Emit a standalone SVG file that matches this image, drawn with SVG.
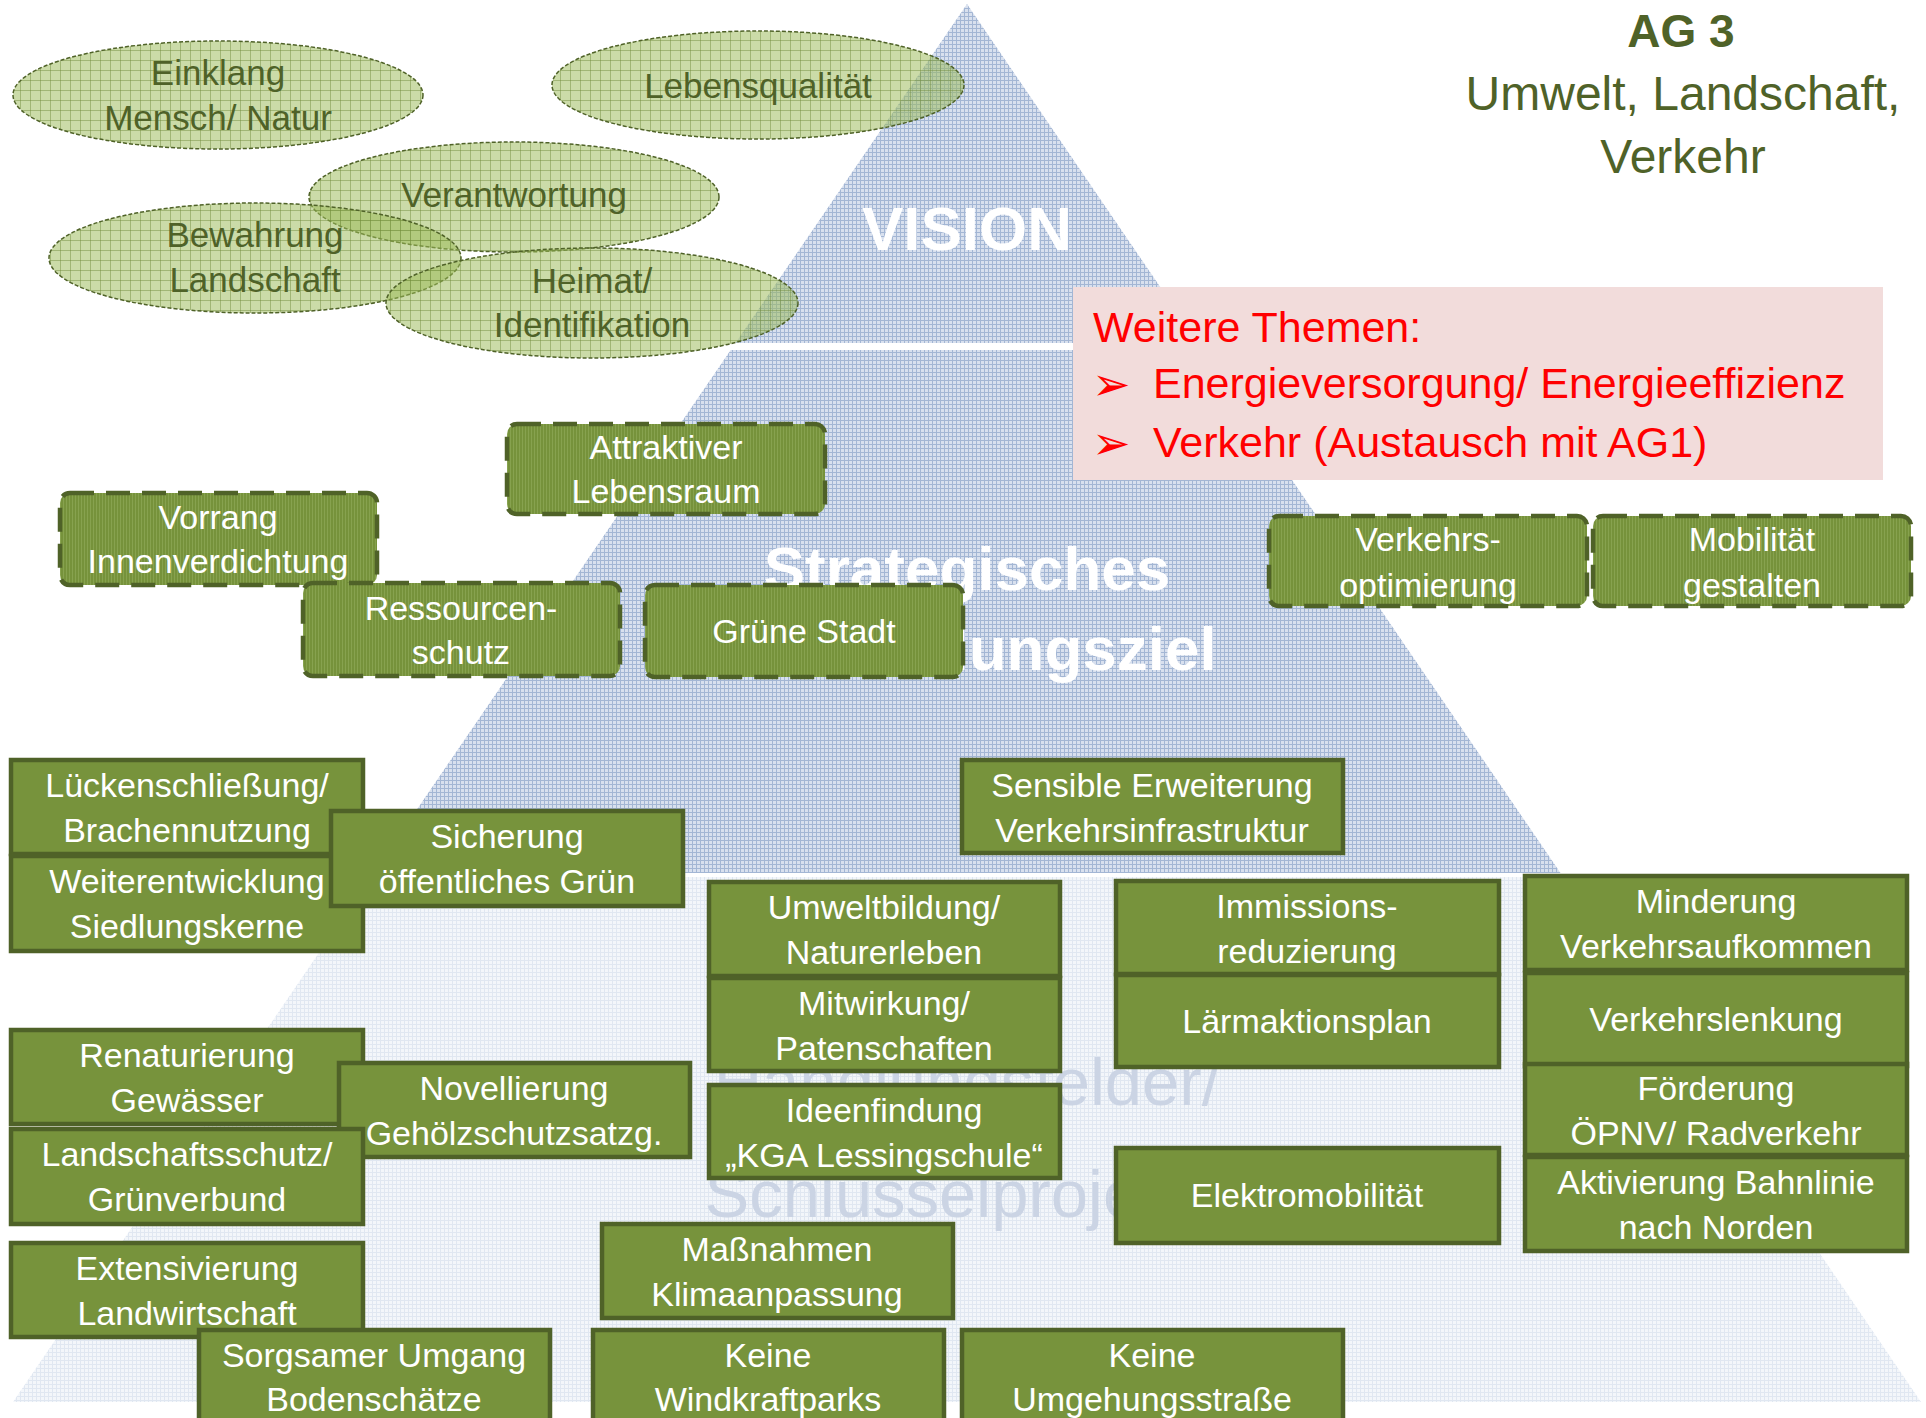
<svg xmlns="http://www.w3.org/2000/svg" width="1926" height="1418" viewBox="0 0 1926 1418">
<defs>
<pattern id="pyr" width="4" height="4" patternUnits="userSpaceOnUse"><rect width="4" height="4" fill="#d8e0ee"/><path d="M0 0.5H4M0.5 0V4" stroke="#a3b6d4" stroke-width="1"/></pattern>
<pattern id="pale" width="4" height="4" patternUnits="userSpaceOnUse"><rect width="4" height="4" fill="#f3f6fa"/><path d="M0 0.5H4M0.5 0V4" stroke="#e0e7f1" stroke-width="1"/></pattern>
<pattern id="ell" width="10" height="10" patternUnits="userSpaceOnUse"><rect width="10" height="10" fill="#9bbb59" fill-opacity="0.52"/><path d="M0 0.5H10M0.5 0V10" stroke="#6f8a3a" stroke-opacity="0.45" stroke-width="1"/></pattern>
<pattern id="dbx" width="3" height="3" patternUnits="userSpaceOnUse"><rect width="3" height="3" fill="#76923b"/><path d="M0.5 0V3" stroke="#87a24f" stroke-width="1"/></pattern>
<style>
.ell{fill:url(#ell);stroke:#4f6228;stroke-width:1.5;stroke-dasharray:4 2}
.et{font-family:"Liberation Sans",Arial,sans-serif;font-size:35px;fill:#4f6228;text-anchor:middle}
.db{fill:url(#dbx);stroke:#4f6228;stroke-width:4.5;stroke-dasharray:24 12}
.sb{fill:#77933c;stroke:#4f6228;stroke-width:4.5}
.bt{font-family:"Liberation Sans",Arial,sans-serif;font-size:34px;fill:#ffffff;text-anchor:middle}
.pl{font-family:"Liberation Sans",Arial,sans-serif;font-weight:bold;font-size:62px;fill:#ffffff;text-anchor:middle}
.hl{font-family:"Liberation Sans",Arial,sans-serif;font-size:67px;fill:#cbd4e4;text-anchor:middle}
.tt{font-family:"Liberation Sans",Arial,sans-serif;fill:#4f6228;text-anchor:middle}
.rt{font-family:"Liberation Sans",Arial,sans-serif;font-size:43px;fill:#ff0000}
.bul{font-family:"DejaVu Sans",sans-serif;font-size:46px;fill:#ff0000}
</style>
</defs>
<rect width="1926" height="1418" fill="#ffffff"/>
<g id="pyramid">
<polygon points="967,4 1198.5,343 735.5,343" fill="url(#pyr)"/>
<polygon points="730.7,350 1203.3,350 1560.5,873 373.5,873" fill="url(#pyr)"/>
<polygon points="370.5,877 1563.5,877 1921,1402 13,1402" fill="url(#pale)"/>
<text class="pl" x="967" y="250">VISION</text>
<text class="pl" x="967" y="590">Strategisches</text>
<text class="pl" x="967" y="670">Entwicklungsziel</text>
<text class="hl" x="967" y="1105">Handlungsfelder/</text>
<text class="hl" x="967" y="1217">Schlüsselprojekte</text>
</g>
<g id="title">
<text class="tt" x="1681" y="47" font-size="46" font-weight="bold">AG 3</text>
<text class="tt" x="1683" y="110" font-size="48">Umwelt, Landschaft,</text>
<text class="tt" x="1683" y="173" font-size="48">Verkehr</text>
</g>
<g id="ellipses">
<g id="e-einklang"><ellipse class="ell" cx="218" cy="95" rx="205" ry="54"/><text class="et" x="218" y="85">Einklang</text><text class="et" x="218" y="130">Mensch/ Natur</text></g>
<g id="e-lebensqualitaet"><ellipse class="ell" cx="758" cy="85" rx="206" ry="54"/><text class="et" x="758" y="98">Lebensqualität</text></g>
<g id="e-verantwortung"><ellipse class="ell" cx="514" cy="197" rx="205" ry="55"/><text class="et" x="514" y="207">Verantwortung</text></g>
<g id="e-bewahrung"><ellipse class="ell" cx="255" cy="258" rx="206" ry="55"/><text class="et" x="255" y="247">Bewahrung</text><text class="et" x="255" y="292">Landschaft</text></g>
<g id="e-heimat"><ellipse class="ell" cx="592" cy="303" rx="206" ry="55"/><text class="et" x="592" y="293">Heimat/</text><text class="et" x="592" y="337">Identifikation</text></g>
</g>
<g id="weitere-themen">
<rect x="1073" y="287" width="810" height="193" fill="#f2dcdb"/>
<text class="rt" x="1093" y="342">Weitere Themen:</text>
<text class="bul" x="1092" y="400">➢</text>
<text class="rt" x="1153" y="398">Energieversorgung/ Energieeffizienz</text>
<text class="bul" x="1092" y="459">➢</text>
<text class="rt" x="1153" y="457">Verkehr (Austausch mit AG1)</text>
</g>
<g id="ziele">
<g id="z-attraktiv"><rect class="db" x="507" y="424" width="318" height="90" rx="10"/><text class="bt" x="666" y="459">Attraktiver</text><text class="bt" x="666" y="503">Lebensraum</text></g>
<g id="z-vorrang"><rect class="db" x="60" y="493" width="317" height="92" rx="10"/><text class="bt" x="218" y="529">Vorrang</text><text class="bt" x="218" y="573">Innenverdichtung</text></g>
<g id="z-ressourcen"><rect class="db" x="303" y="583" width="317" height="93" rx="10"/><text class="bt" x="461" y="620">Ressourcen-</text><text class="bt" x="461" y="664">schutz</text></g>
<g id="z-gruene-stadt"><rect class="db" x="645" y="585" width="318" height="92" rx="10"/><text class="bt" x="804" y="643">Grüne Stadt</text></g>
<g id="z-verkehrsopt"><rect class="db" x="1269" y="516" width="318" height="90" rx="10"/><text class="bt" x="1428" y="551">Verkehrs-</text><text class="bt" x="1428" y="597">optimierung</text></g>
<g id="z-mobilitaet"><rect class="db" x="1593" y="516" width="318" height="90" rx="10"/><text class="bt" x="1752" y="551">Mobilität</text><text class="bt" x="1752" y="597">gestalten</text></g>
</g>
<g id="projekte">
<g id="p-lueckenschliessung"><rect class="sb" x="11" y="760" width="352" height="94"/><text class="bt" x="187" y="797">Lückenschließung/</text><text class="bt" x="187" y="842">Brachennutzung</text></g>
<g id="p-weiterentwicklung"><rect class="sb" x="11" y="856" width="352" height="95"/><text class="bt" x="187" y="893">Weiterentwicklung</text><text class="bt" x="187" y="938">Siedlungskerne</text></g>
<g id="p-sicherung"><rect class="sb" x="331" y="811" width="352" height="95"/><text class="bt" x="507" y="848">Sicherung</text><text class="bt" x="507" y="893">öffentliches Grün</text></g>
<g id="p-renaturierung"><rect class="sb" x="11" y="1030" width="352" height="94"/><text class="bt" x="187" y="1067">Renaturierung</text><text class="bt" x="187" y="1112">Gewässer</text></g>
<g id="p-novellierung"><rect class="sb" x="339" y="1063" width="351" height="94"/><text class="bt" x="514" y="1100">Novellierung</text><text class="bt" x="514" y="1145">Gehölzschutzsatzg.</text></g>
<g id="p-landschaftsschutz"><rect class="sb" x="11" y="1129" width="352" height="95"/><text class="bt" x="187" y="1166">Landschaftsschutz/</text><text class="bt" x="187" y="1211">Grünverbund</text></g>
<g id="p-extensivierung"><rect class="sb" x="11" y="1243" width="352" height="94"/><text class="bt" x="187" y="1280">Extensivierung</text><text class="bt" x="187" y="1325">Landwirtschaft</text></g>
<g id="p-sorgsamer"><rect class="sb" x="199" y="1330" width="351" height="100"/><text class="bt" x="374" y="1367">Sorgsamer Umgang</text><text class="bt" x="374" y="1411">Bodenschätze</text></g>
<g id="p-sensible"><rect class="sb" x="962" y="760" width="381" height="93"/><text class="bt" x="1152" y="797">Sensible Erweiterung</text><text class="bt" x="1152" y="842">Verkehrsinfrastruktur</text></g>
<g id="p-umweltbildung"><rect class="sb" x="709" y="882" width="351" height="94"/><text class="bt" x="884" y="919">Umweltbildung/</text><text class="bt" x="884" y="964">Naturerleben</text></g>
<g id="p-mitwirkung"><rect class="sb" x="709" y="978" width="351" height="93"/><text class="bt" x="884" y="1015">Mitwirkung/</text><text class="bt" x="884" y="1060">Patenschaften</text></g>
<g id="p-ideenfindung"><rect class="sb" x="709" y="1085" width="351" height="93"/><text class="bt" x="884" y="1122">Ideenfindung</text><text class="bt" x="884" y="1167">„KGA Lessingschule“</text></g>
<g id="p-massnahmen"><rect class="sb" x="602" y="1224" width="351" height="94"/><text class="bt" x="777" y="1261">Maßnahmen</text><text class="bt" x="777" y="1306">Klimaanpassung</text></g>
<g id="p-windkraft"><rect class="sb" x="593" y="1330" width="351" height="100"/><text class="bt" x="768" y="1367">Keine</text><text class="bt" x="768" y="1411">Windkraftparks</text></g>
<g id="p-umgehung"><rect class="sb" x="962" y="1330" width="381" height="100"/><text class="bt" x="1152" y="1367">Keine</text><text class="bt" x="1152" y="1411">Umgehungsstraße</text></g>
<g id="p-immission"><rect class="sb" x="1116" y="881" width="383" height="93"/><text class="bt" x="1307" y="918">Immissions-</text><text class="bt" x="1307" y="963">reduzierung</text></g>
<g id="p-laerm"><rect class="sb" x="1116" y="975" width="383" height="92"/><text class="bt" x="1307" y="1033">Lärmaktionsplan</text></g>
<g id="p-elektro"><rect class="sb" x="1116" y="1148" width="383" height="95"/><text class="bt" x="1307" y="1207">Elektromobilität</text></g>
<g id="p-minderung"><rect class="sb" x="1525" y="876" width="382" height="94"/><text class="bt" x="1716" y="913">Minderung</text><text class="bt" x="1716" y="958">Verkehrsaufkommen</text></g>
<g id="p-lenkung"><rect class="sb" x="1525" y="973" width="382" height="93"/><text class="bt" x="1716" y="1031">Verkehrslenkung</text></g>
<g id="p-foerderung"><rect class="sb" x="1525" y="1064" width="382" height="91"/><text class="bt" x="1716" y="1100">Förderung</text><text class="bt" x="1716" y="1145">ÖPNV/ Radverkehr</text></g>
<g id="p-bahnlinie"><rect class="sb" x="1525" y="1157" width="382" height="94"/><text class="bt" x="1716" y="1194">Aktivierung Bahnlinie</text><text class="bt" x="1716" y="1239">nach Norden</text></g>
</g>
<g id="connectors"/>
</svg>
